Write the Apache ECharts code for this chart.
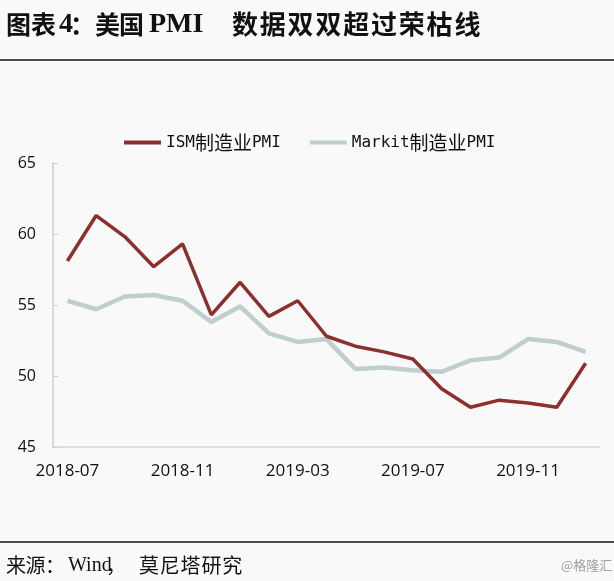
<!DOCTYPE html>
<html><head><meta charset="utf-8">
<script src="https://cdn.jsdelivr.net/npm/echarts@6/dist/echarts.min.js"></script>
<style>html,body{margin:0;padding:0;background:#f9f9f9}#c{width:614px;height:581px}</style>
</head><body><div id="c"></div>
<script>
const months = ['2018-07','2018-08','2018-09','2018-10','2018-11','2018-12',
  '2019-01','2019-02','2019-03','2019-04','2019-05','2019-06',
  '2019-07','2019-08','2019-09','2019-10','2019-11','2019-12','2020-01'];
const ismPMI = [58.1,61.3,59.8,57.7,59.3,54.3,56.6,54.2,55.3,52.8,52.1,51.7,51.2,49.1,47.8,48.3,48.1,47.8,50.9];
const markitPMI = [55.3,54.7,55.6,55.7,55.3,53.8,54.9,53.0,52.4,52.6,50.5,50.6,50.4,50.3,51.1,51.3,52.6,52.4,51.7];
const seriesNames = ['ISM制造业PMI','Markit制造业PMI'];
const yMin = 45, yMax = 65, yStep = 5;

const chart = echarts.init(document.getElementById('c'), null, {renderer:'canvas'});
const cjk = '"Noto Sans CJK SC", sans-serif';
const serifAscii = '"Liberation Serif", "Noto Sans CJK SC", serif';
const mono = '"DejaVu Sans Mono", monospace';

function txt(x, y, s, font, fill) {
  return {type: 'text', x: x, y: y, silent: true,
    style: {text: s, font: font, fill: fill || '#111', textAlign: 'left', textVerticalAlign: 'middle'}};
}
function spaced(x0, y, s, pitch, font) {
  return s.split('').map((ch, i) => txt(x0 + i * pitch, y, ch, font));
}
const tCjk = 'bold 25px ' + cjk;
const tCjk2 = 'bold 26px ' + cjk;
const tAsc = 'bold 28px ' + serifAscii;
const titleEls = [].concat(
  spaced(6, 24, '图表', 25, tCjk),
  [txt(59, 25, '4', tAsc), txt(70, 24, '：', tCjk)],
  spaced(95, 24, '美国', 24, tCjk),
  [txt(149, 25, 'PMI', tAsc)],
  spaced(232, 24, '数据双双超过荣枯线', 27.8, tCjk2)
);
const sCjk = '20px ' + cjk;
const srcEls = [].concat(
  spaced(6, 565, '来源：', 19.5, sCjk),
  [txt(68, 566, 'Wind', '20px ' + serifAscii), txt(106, 565, '，', sCjk)],
  spaced(139, 565, '莫尼塔研究', 20.8, sCjk)
);

chart.setOption({
  backgroundColor: '#f9f9f9',
  animation: false,
  legend: {
    top: 128, left: 119,
    itemWidth: 37, itemHeight: 4, itemGap: 29,
    icon: 'rect',
    data: seriesNames,
    formatter: function (name) {
      const m = name.match(/^([A-Za-z]+)(制造业)(PMI)$/);
      return '{a|' + m[1] + '}{c|' + m[2] + '}{a|' + m[3] + '}';
    },
    textStyle: {
      rich: {
        a: {fontFamily: mono, fontSize: 16, color: '#111'},
        c: {fontFamily: cjk, fontSize: 19, color: '#111'}
      }
    }
  },
  grid: {left: 53, right: 14, top: 163, bottom: 134},
  xAxis: {
    type: 'category', data: months, boundaryGap: true,
    axisLine: {lineStyle: {color: '#d6d3dc', width: 1.5}},
    axisTick: {interval: 3, length: 5, lineStyle: {color: '#d6d3dc'}},
    axisLabel: {interval: 3, margin: 16, fontFamily: '"Open Sans", sans-serif', fontSize: 17, color: '#111'}
  },
  yAxis: {
    type: 'value', min: yMin, max: yMax, interval: yStep,
    splitLine: {show: false},
    axisLine: {show: true, lineStyle: {color: '#cfcddc', width: 1.5}},
    axisTick: {show: true, inside: true, length: 5, lineStyle: {color: '#cfcddc'}},
    axisLabel: {margin: 17, fontFamily: '"Open Sans", sans-serif', fontSize: 16, color: '#111'}
  },
  series: [
    {name: seriesNames[1], type: 'line', data: markitPMI, symbol: 'none', z: 2,
     color: '#bfcece', lineStyle: {color: '#bfcece', width: 4.5}},
    {name: seriesNames[0], type: 'line', data: ismPMI, symbol: 'none', z: 3,
     color: '#8c2f2f', lineStyle: {color: '#8c2f2f', width: 3.5}}
  ],
  graphic: [].concat(titleEls, srcEls, [
    {type: 'line', shape: {x1: 0, y1: 60, x2: 614, y2: 60}, style: {stroke: '#111', lineWidth: 1.5}},
    {type: 'line', shape: {x1: 0, y1: 542, x2: 614, y2: 542}, style: {stroke: '#111', lineWidth: 1.5}},
    txt(561, 565, '@格隆汇', '13px ' + cjk, '#a0a0a0')
  ])
});
</script>
</body></html>
